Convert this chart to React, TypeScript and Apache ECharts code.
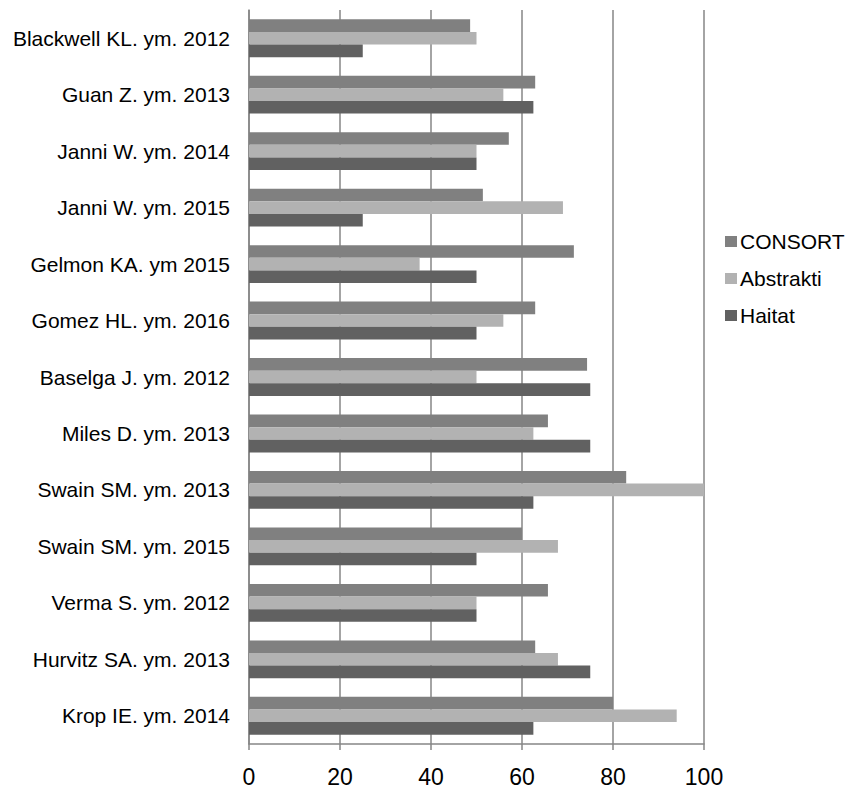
import React, { useEffect, useRef } from "react";
import * as echarts from "echarts";

// Studies, listed top to bottom
const studies = [
  "Blackwell KL. ym. 2012",
  "Guan Z. ym. 2013",
  "Janni W. ym. 2014",
  "Janni W. ym. 2015",
  "Gelmon KA. ym 2015",
  "Gomez HL. ym. 2016",
  "Baselga J. ym. 2012",
  "Miles D. ym. 2013",
  "Swain SM. ym. 2013",
  "Swain SM. ym. 2015",
  "Verma S. ym. 2012",
  "Hurvitz SA. ym. 2013",
  "Krop IE. ym. 2014",
];

const consort = [48.6, 62.9, 57.1, 51.4, 71.4, 62.9, 74.3, 65.7, 82.9, 60, 65.7, 62.9, 80];
const abstrakti = [50, 55.9, 50, 69, 37.5, 55.9, 50, 62.5, 100, 67.9, 50, 67.9, 94];
const haitat = [25, 62.5, 50, 25, 50, 50, 75, 75, 62.5, 50, 50, 75, 62.5];

const xTicks = [0, 20, 40, 60, 80, 100];

export default function App() {
  const ref = useRef<HTMLDivElement>(null);

  useEffect(() => {
    if (!ref.current) return;
    const chart = echarts.init(ref.current, undefined, { renderer: "svg" });
    const font = "'Liberation Sans', Arial, sans-serif";
    chart.setOption({
      animation: false,
      backgroundColor: "#ffffff",
      grid: { left: 249, right: 145, top: 10, bottom: 46, containLabel: false },
      legend: {
        orient: "vertical",
        left: 725,
        top: 231,
        padding: 0,
        itemWidth: 12,
        itemHeight: 11,
        itemGap: 16,
        icon: "rect",
        textStyle: { fontFamily: font, fontSize: 21, color: "#000", padding: [0, 0, 0, -2] },
        data: ["CONSORT", "Abstrakti", "Haitat"],
      },
      xAxis: {
        type: "value",
        min: xTicks[0],
        max: xTicks[xTicks.length - 1],
        interval: 20,
        axisLine: { show: true, lineStyle: { color: "#868686", width: 1.5 } },
        axisTick: { show: true, length: 6, lineStyle: { color: "#868686", width: 1.5 } },
        splitLine: { show: true, lineStyle: { color: "#868686", width: 1.5 } },
        axisLabel: { fontFamily: font, fontSize: 23, color: "#000", margin: 21 },
      },
      yAxis: {
        type: "category",
        data: studies,
        inverse: true,
        axisLine: { show: true, lineStyle: { color: "#868686", width: 1.5 } },
        axisTick: { show: false },
        axisLabel: { fontFamily: font, fontSize: 21, color: "#000", margin: 19 },
      },
      series: [
        { name: "CONSORT", type: "bar", data: consort, itemStyle: { color: "#808080" }, barGap: "0%", barCategoryGap: "33%" },
        { name: "Abstrakti", type: "bar", data: abstrakti, itemStyle: { color: "#b2b2b2" }, barGap: "0%", barCategoryGap: "33%" },
        { name: "Haitat", type: "bar", data: haitat, itemStyle: { color: "#616161" }, barGap: "0%", barCategoryGap: "33%" },
      ],
    });
    return () => chart.dispose();
  }, []);

  return <div ref={ref} style={{ width: 849, height: 790, position: "absolute", left: 0, top: 0 }} />;
}
